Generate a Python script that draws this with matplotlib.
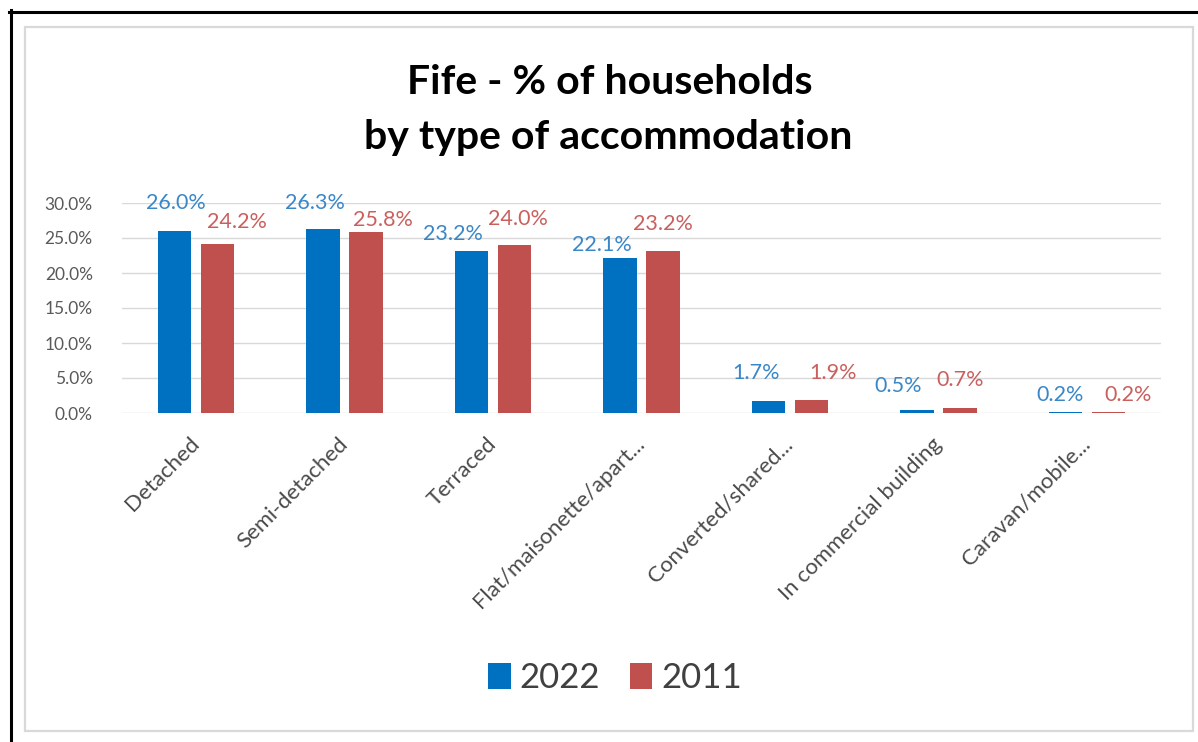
import numpy as np
import matplotlib
matplotlib.use("Agg")
import matplotlib.pyplot as plt
from matplotlib.lines import Line2D
from matplotlib.patches import Rectangle

plt.rcParams['font.family'] = ['Lato', 'DejaVu Sans']

categories = ['Detached', 'Semi-detached', 'Terraced', 'Flat/maisonette/apart...',
              'Converted/shared...', 'In commercial building', 'Caravan/mobile...']
pct_2022 = [26.0, 26.3, 23.2, 22.1, 1.7, 0.5, 0.2]
pct_2011 = [24.2, 25.8, 24.0, 23.2, 1.9, 0.7, 0.2]
yticks = [0, 5, 10, 15, 20, 25, 30]

# label nudges (pixels) so the value labels don't collide
off_2022 = [(1, 28), (-8, 26), (-19, 17), (-18, 13), (-12, 28), (-19, 24), (-5, 17)]
off_2011 = [(19, 22), (17, 12), (3, 26), (0, 27), (22, 27), (0, 28), (20, 17)]

blue = '#0070C0'
red = '#C0504D'
blue_txt = '#3A87C8'
red_txt = '#C9605E'
grey = '#595959'

fig = plt.figure(figsize=(11.98, 7.42), dpi=100)
W, H = 1198, 742

# outer frame: black top/left edge and light inner box
fig.add_artist(Line2D([9 / W, 1], [1 - 11.5 / H, 1 - 11.5 / H], color='black', lw=2.2,
                      transform=fig.transFigure))
fig.add_artist(Line2D([10.5 / W, 10.5 / W], [0, 1 - 10 / H], color='black', lw=2.2,
                      transform=fig.transFigure))
fig.add_artist(Rectangle((25 / W, 1 - 731 / H), (1193 - 25) / W, (731 - 27) / H,
                         fill=False, edgecolor='#D9D9D9', lw=1.6, transform=fig.transFigure))

ax = fig.add_axes([122 / W, 1 - 413 / H, (1161 - 122) / W, (413 - 203) / H])

x = np.arange(len(categories))
bw = 0.225
sh = 0.145
ax.bar(x - sh, pct_2022, bw, color=blue, label='2022', zorder=3)
ax.bar(x + sh, pct_2011, bw, color=red, label='2011', zorder=3)

for i in range(len(categories)):
    ax.annotate(f'{pct_2022[i]:.1f}%', (x[i] - sh, pct_2022[i]), xytext=off_2022[i],
                textcoords='offset pixels', ha='center', va='center',
                fontsize=15.5, color=blue_txt, zorder=4, annotation_clip=False)
    ax.annotate(f'{pct_2011[i]:.1f}%', (x[i] + sh, pct_2011[i]), xytext=off_2011[i],
                textcoords='offset pixels', ha='center', va='center',
                fontsize=15.5, color=red_txt, zorder=4, annotation_clip=False)

ax.set_xlim(-0.5, len(categories) - 0.5)
ax.set_ylim(0, 30)
ax.set_yticks(yticks)
ax.set_yticklabels([f'{t:.1f}%' for t in yticks], fontsize=12.5, color=grey)
ax.grid(axis='y', color='#D9D9D9', lw=1, zorder=0)
ax.set_xticks(x)
ax.set_xticklabels(categories, rotation=45, ha='right', va='center',
                   rotation_mode='anchor', fontsize=16, color='#4A4A4A')
ax.tick_params(axis='both', length=0)
ax.tick_params(axis='y', pad=21)
ax.tick_params(axis='x', pad=20)
for s in ax.spines.values():
    s.set_visible(False)

fig.text(610 / W, 1 - 83 / H, 'Fife - % of households', ha='center', va='center',
         fontsize=29.5, fontweight='bold', color='black')
fig.text(608 / W, 1 - 138 / H, 'by type of accommodation', ha='center', va='center',
         fontsize=29.5, fontweight='bold', color='black')

fig.legend(loc='center', bbox_to_anchor=(615 / W, 1 - 678 / H), ncol=2, frameon=False,
           fontsize=25, handlelength=0.65, handleheight=0.75, handletextpad=0.25,
           columnspacing=0.85, labelcolor='#404040')

fig.savefig('out.png', dpi=100)
